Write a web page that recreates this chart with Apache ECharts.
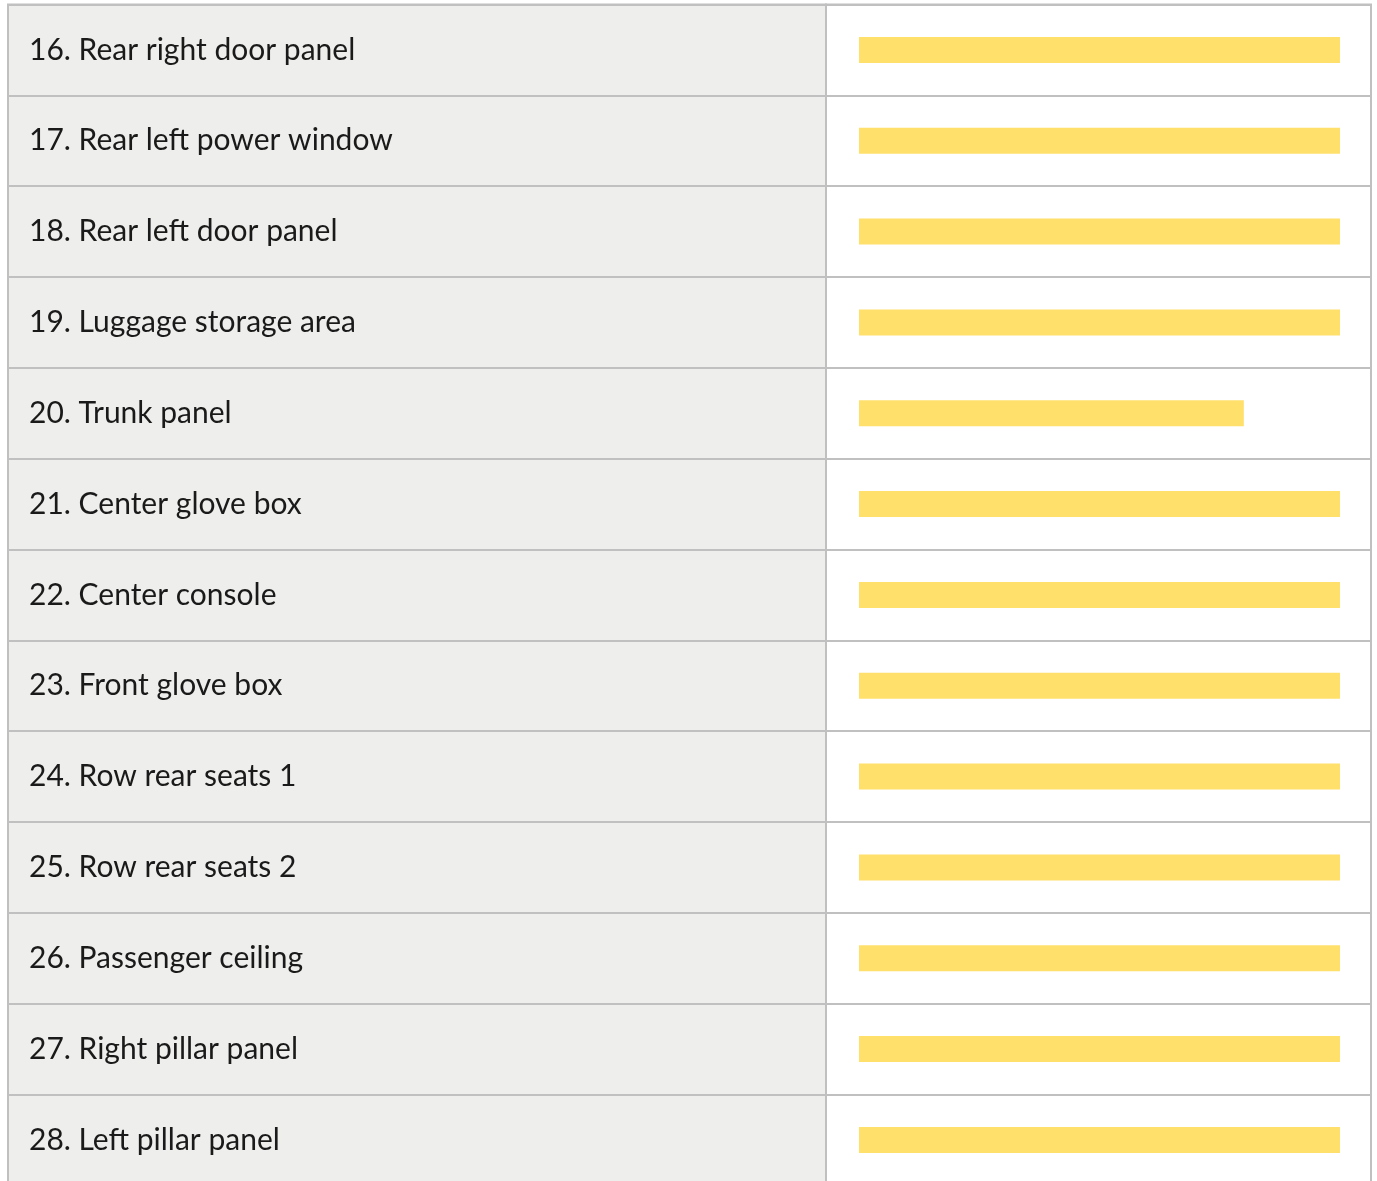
<!DOCTYPE html>
<html>
<head>
<meta charset="utf-8">
<style>
html,body{margin:0;padding:0;background:#ffffff;overflow:hidden;}
#chart{width:1377px;height:1200px;}
</style>
<script src="https://cdn.jsdelivr.net/npm/echarts@6/dist/echarts.min.js"></script>
</head>
<body>
<div id="chart"></div>
<script>
const categories = [
  '16. Rear right door panel',
  '17. Rear left power window',
  '18. Rear left door panel',
  '19. Luggage storage area',
  '20. Trunk panel',
  '21. Center glove box',
  '22. Center console',
  '23. Front glove box',
  '24. Row rear seats 1',
  '25. Row rear seats 2',
  '26. Passenger ceiling',
  '27. Right pillar panel',
  '28. Left pillar panel'
];
const values = [100, 100, 100, 100, 80, 100, 100, 100, 100, 100, 100, 100, 100];

const chart = echarts.init(document.getElementById('chart'), null, {renderer: 'canvas'});
const border = '#c0c0c0';
const rowH = 90.83;
const gridTop = 4.5;
const gridH = rowH * categories.length;

chart.setOption({
  animation: false,
  grid: [
    {left: 8, width: 818, top: gridTop, height: gridH, show: true,
     backgroundColor: '#eeefec', borderColor: border, borderWidth: 2, containLabel: false},
    {left: 826, width: 545, top: gridTop, height: gridH, show: true,
     backgroundColor: '#ffffff', borderColor: border, borderWidth: 2, containLabel: false}
  ],
  xAxis: [
    {gridIndex: 0, type: 'value', min: 0, max: 1, show: false},
    {gridIndex: 1, type: 'value', min: -6.86, max: 106.44, show: false}
  ],
  yAxis: [
    {gridIndex: 0, type: 'category', data: categories, inverse: true,
     axisLine: {show: false}, axisTick: {show: false},
     splitLine: {show: true, interval: 0, lineStyle: {color: border, width: 2}},
     axisLabel: {show: true, inside: true, interval: 0, margin: 21, align: 'left',
       color: '#1a1a1a', fontSize: 30, fontFamily: 'Lato'}},
    {gridIndex: 1, type: 'category', data: categories, inverse: true,
     axisLine: {show: false}, axisTick: {show: false}, axisLabel: {show: false},
     splitLine: {show: true, interval: 0, lineStyle: {color: border, width: 2}}}
  ],
  series: [
    {type: 'bar', xAxisIndex: 1, yAxisIndex: 1, data: values, barWidth: 26,
     itemStyle: {color: '#ffe06b'}, silent: true}
  ]
});
</script>
</body>
</html>
